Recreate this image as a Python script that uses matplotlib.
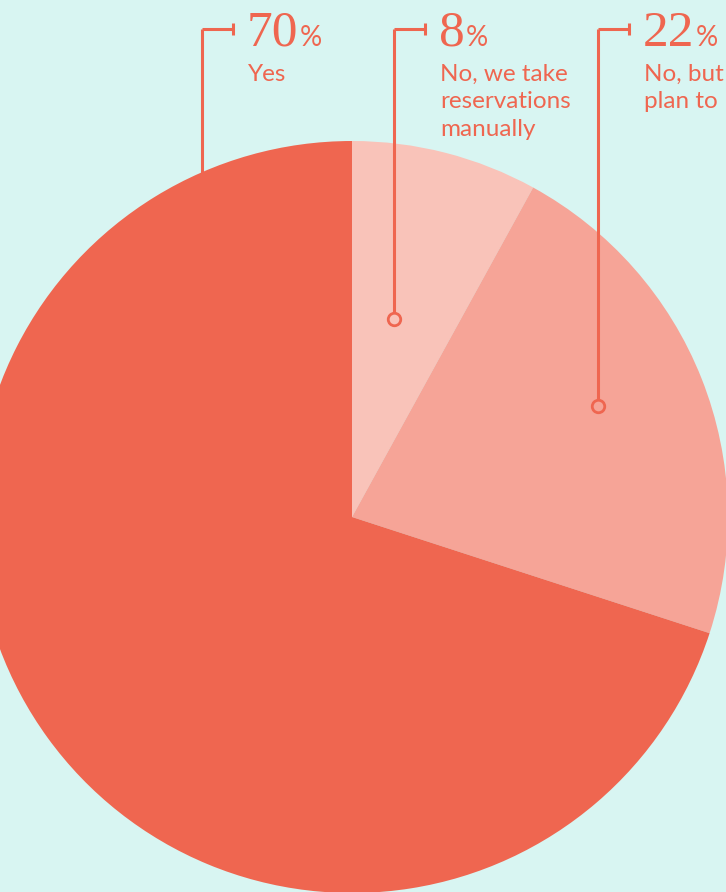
import matplotlib.pyplot as plt

# survey answers, clockwise from 12 o'clock
answers = ['No, we take\nreservations\nmanually', 'No, but\nplan to', 'Yes']
shares = [8, 22, 70]
slice_colors = ['#F9C3B9', '#F6A497', '#EF6650']

# label layout (pixel coords, y from top)
leader_x = [394, 598, 202]
leader_end = [319, 406, 200]
has_dot = [True, True, False]

W, H = 726, 892
bg = '#D8F5F2'
red = '#EF6650'

fig = plt.figure(figsize=(W / 100, H / 100), dpi=100)
fig.patch.set_facecolor(bg)
ax = fig.add_axes([0, 0, 1, 1])
ax.set_facecolor(bg)

ax.pie(shares, colors=slice_colors, startangle=90, counterclock=False,
       center=(352, H - 517), radius=376, wedgeprops=dict(linewidth=0),
       frame=True)
ax.set_xlim(0, W)
ax.set_ylim(0, H)
ax.set_aspect('equal')
ax.axis('off')

fig.canvas.draw()
renderer = fig.canvas.get_renderer()

for ans, val, lx, ly, dot, col in zip(answers, shares, leader_x, leader_end, has_dot, slice_colors):
    top = H - 29
    # bracket leader
    ax.plot([lx, lx], [H - ly, top], color=red, lw=2.2, zorder=1 if not dot else 3,
            solid_capstyle='butt')
    ax.plot([lx, lx + 31], [top, top], color=red, lw=2.2, zorder=3, solid_capstyle='butt')
    ax.plot([lx + 31, lx + 31], [top - 6, top + 6], color=red, lw=2.2, zorder=3,
            solid_capstyle='butt')
    if dot:
        ax.plot(lx, H - ly, 'o', ms=9, mfc=col, mec=red, mew=2, zorder=4)
    # big number plus small percent sign
    tx = lx + 45
    num = ax.text(tx, H - 46, str(val), fontsize=37, family='Liberation Serif',
                  color=red, va='baseline', ha='left', zorder=5)
    bb = num.get_window_extent(renderer)
    ax.text(bb.x1 + 1, H - 46, '%', fontsize=20, family='Lato', color=red,
            va='baseline', ha='left', zorder=5)
    ax.text(tx + 1, H - 64, ans, fontsize=17.5, family='Lato', color=red,
            va='top', ha='left', linespacing=1.38, zorder=5)

fig.savefig('out.png', dpi=100, facecolor=bg)
